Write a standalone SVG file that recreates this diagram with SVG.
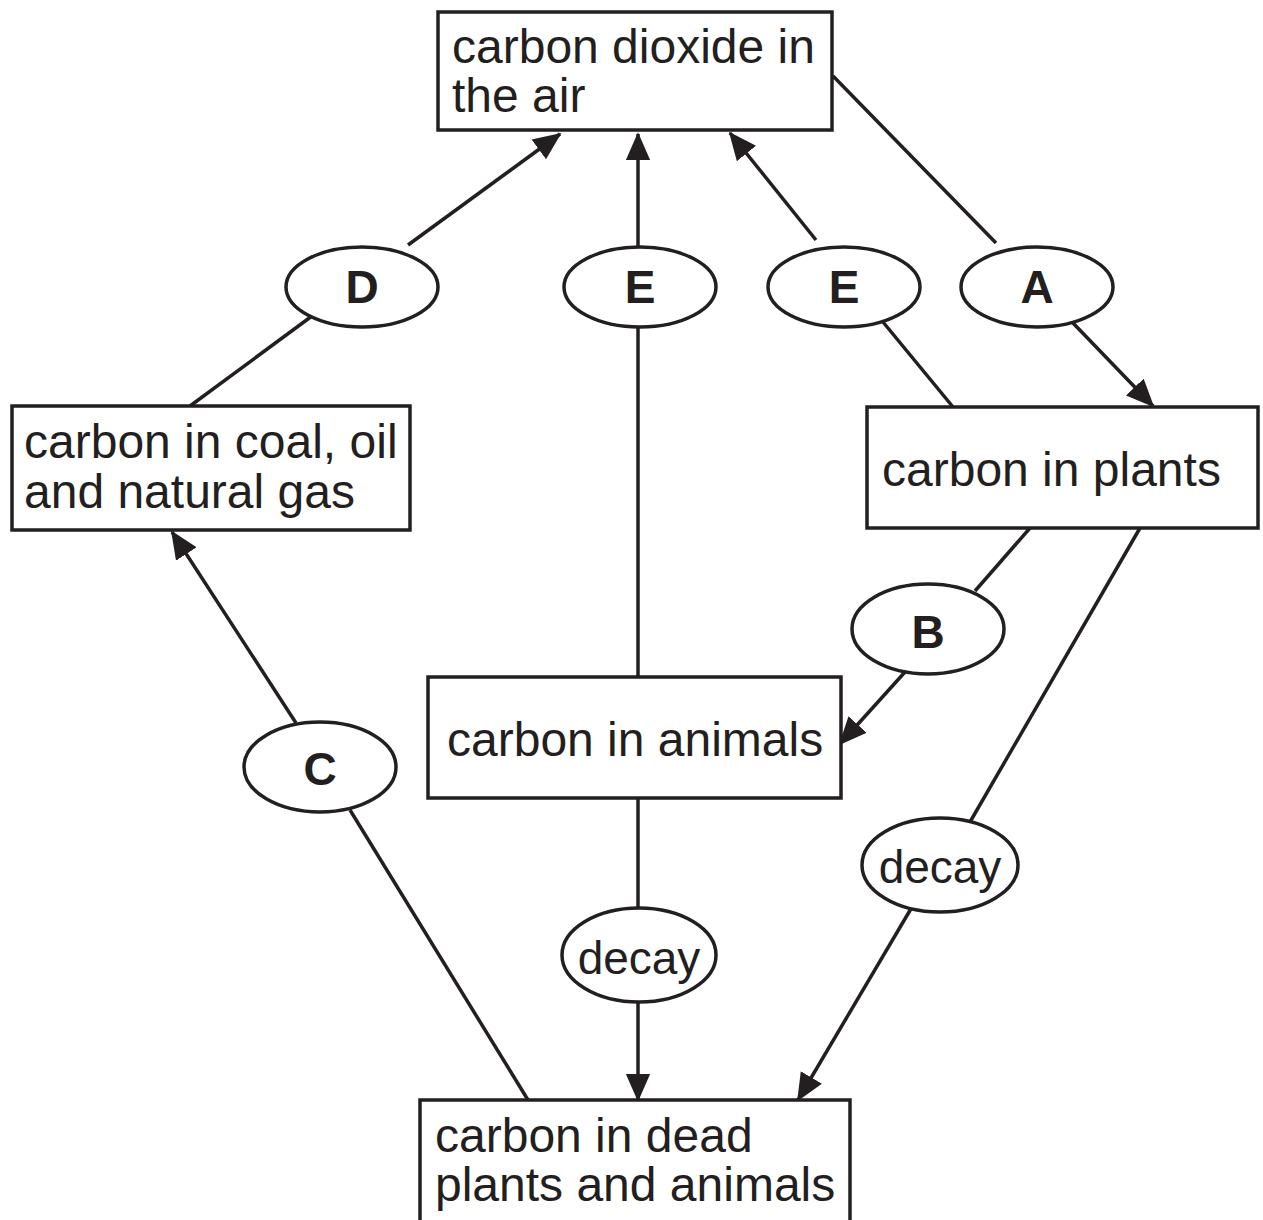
<svg xmlns="http://www.w3.org/2000/svg" width="1263" height="1220" viewBox="0 0 1263 1220">
<defs>
<style>
.box{fill:#fff;stroke:#231f20;stroke-width:3.5}
.ell{fill:#fff;stroke:#231f20;stroke-width:3.5}
.line{fill:none;stroke:#231f20;stroke-width:3.5}
.t{font-family:"Liberation Sans",Arial,sans-serif;font-size:48px;fill:#231f20}
.lb{font-family:"Liberation Sans",Arial,sans-serif;font-size:46px;font-weight:bold;fill:#231f20;text-anchor:middle}
.dc{font-family:"Liberation Sans",Arial,sans-serif;font-size:46px;fill:#231f20;text-anchor:middle}
</style>
<marker id="arr" markerWidth="8" markerHeight="8" refX="7.5" refY="4" orient="auto" markerUnits="strokeWidth">
<path d="M0,0.5 L8,4 L0,7.5 Z" fill="#231f20"/>
</marker>
</defs>
<rect width="1263" height="1220" fill="#fff"/>
<g id="connectors">
<line class="line" x1="190" y1="406" x2="312" y2="316"/>
<line class="line" x1="408" y1="245" x2="560" y2="134" marker-end="url(#arr)"/>
<line class="line" x1="638" y1="248" x2="638" y2="134" marker-end="url(#arr)"/>
<line class="line" x1="638" y1="325" x2="638" y2="678"/>
<line class="line" x1="816" y1="240" x2="730" y2="133" marker-end="url(#arr)"/>
<line class="line" x1="883" y1="322" x2="953" y2="407"/>
<line class="line" x1="833" y1="76" x2="996" y2="243"/>
<line class="line" x1="1073" y1="323" x2="1153" y2="406" marker-end="url(#arr)"/>
<line class="line" x1="1030" y1="528" x2="975" y2="591"/>
<line class="line" x1="905" y1="672" x2="840" y2="744" marker-end="url(#arr)"/>
<line class="line" x1="1140" y1="528" x2="970" y2="822"/>
<line class="line" x1="912" y1="907" x2="798" y2="1100" marker-end="url(#arr)"/>
<line class="line" x1="638" y1="798" x2="638" y2="908"/>
<line class="line" x1="638" y1="1002" x2="638" y2="1100" marker-end="url(#arr)"/>
<line class="line" x1="296" y1="723" x2="172" y2="532" marker-end="url(#arr)"/>
<line class="line" x1="350" y1="810" x2="528" y2="1100"/>
</g>
<g id="co2-air">
<rect class="box" x="438" y="12" width="394" height="118"/>
<text class="t" x="452" y="63">carbon dioxide in</text>
<text class="t" x="452" y="112">the air</text>
</g>
<g id="fossil">
<rect class="box" x="12" y="406" width="398" height="124"/>
<text class="t" x="24" y="458">carbon in coal, oil</text>
<text class="t" x="24" y="508">and natural gas</text>
</g>
<g id="plants">
<rect class="box" x="867" y="407" width="391" height="121"/>
<text class="t" x="882" y="486">carbon in plants</text>
</g>
<g id="animals">
<rect class="box" x="428" y="677" width="413" height="121"/>
<text class="t" x="447" y="756">carbon in animals</text>
</g>
<g id="dead">
<rect class="box" x="420" y="1100" width="430" height="130"/>
<text class="t" x="435" y="1152">carbon in dead</text>
<text class="t" x="435" y="1201">plants and animals</text>
</g>
<g id="D"><ellipse class="ell" cx="362" cy="287" rx="76" ry="40"/><text class="lb" x="362" y="303">D</text></g>
<g id="E1"><ellipse class="ell" cx="640" cy="287" rx="76" ry="40"/><text class="lb" x="640" y="303">E</text></g>
<g id="E2"><ellipse class="ell" cx="844" cy="287" rx="76" ry="40"/><text class="lb" x="844" y="303">E</text></g>
<g id="A"><ellipse class="ell" cx="1037" cy="287" rx="76" ry="40"/><text class="lb" x="1037" y="303">A</text></g>
<g id="B"><ellipse class="ell" cx="928" cy="629" rx="76" ry="45"/><text class="lb" x="928" y="648">B</text></g>
<g id="C"><ellipse class="ell" cx="320" cy="767" rx="76" ry="45"/><text class="lb" x="320" y="785">C</text></g>
<g id="decay-animals"><ellipse class="ell" cx="639" cy="955" rx="77" ry="47"/><text class="dc" x="639" y="974">decay</text></g>
<g id="decay-plants"><ellipse class="ell" cx="940" cy="865" rx="78" ry="47"/><text class="dc" x="940" y="883">decay</text></g>
</svg>
